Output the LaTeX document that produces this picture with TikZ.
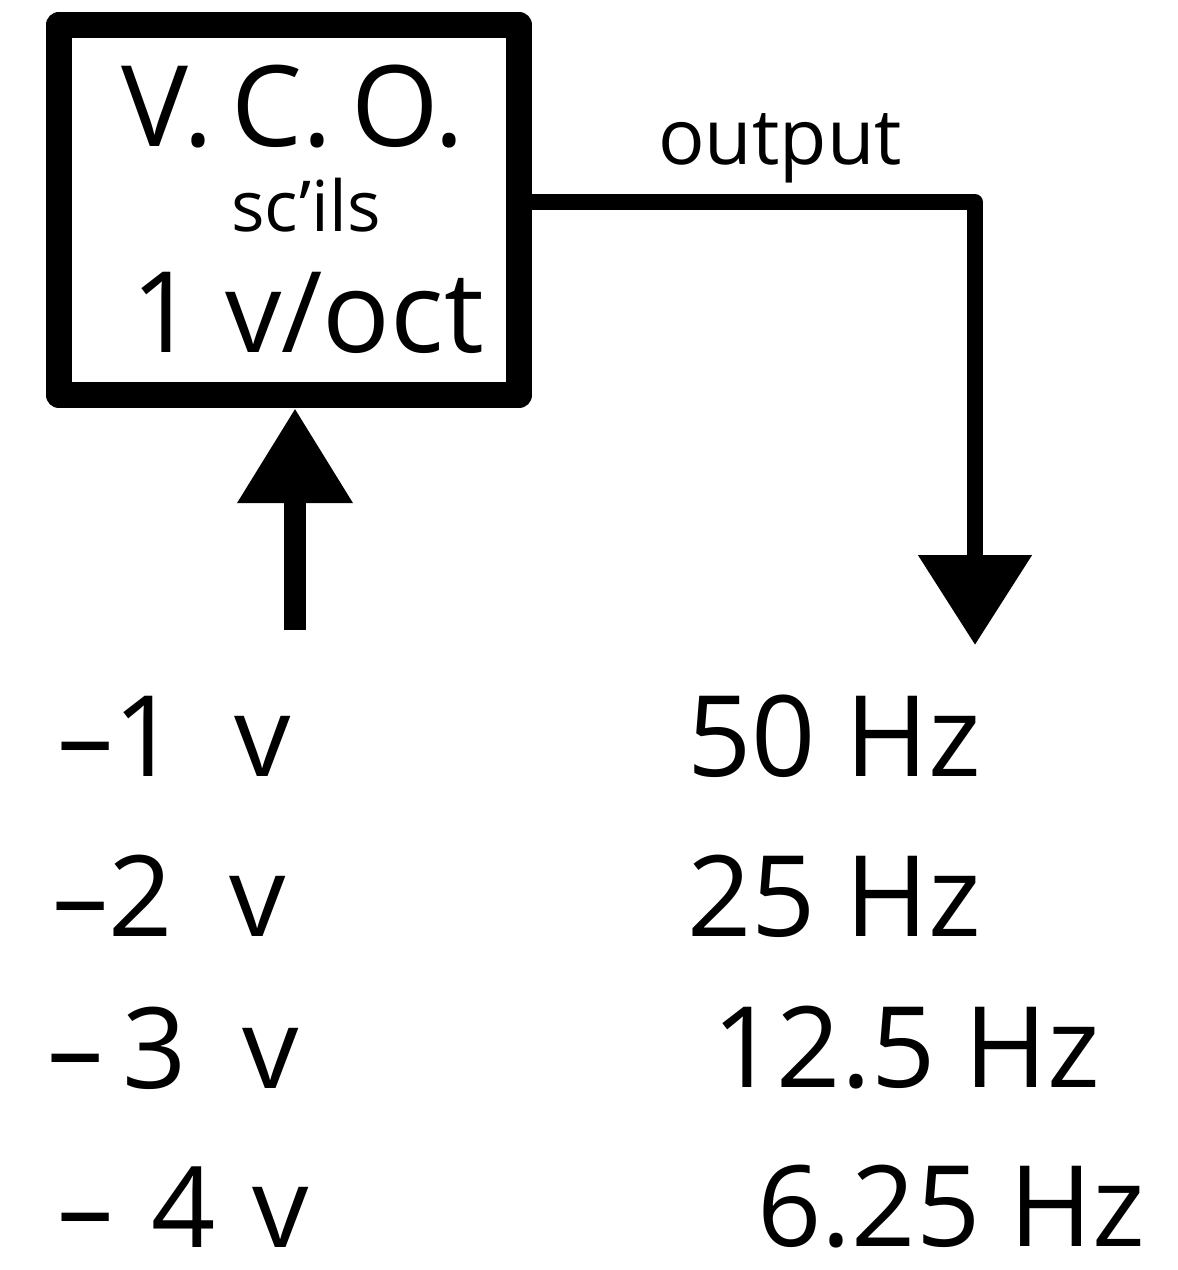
\documentclass[tikz,border=0pt]{standalone}
\usepackage{fontspec}
\setmainfont{Open Sans}
\usetikzlibrary{arrows.meta}

\begin{document}
\begin{tikzpicture}[line join=round]

	\useasboundingbox (0,0) rectangle (11.78,-12.70);

	\coordinate (bend) at (9.75,-2.02);
	\coordinate (out_tip) at (9.75,-6.45);
	\coordinate (in_start) at (2.95,-6.30);

	% Main block
	\node[draw, line width=7.5pt, minimum width=4.6cm, minimum height=3.7cm,
		inner sep=0pt] (vco) at (2.89,-2.10) {};
	\node[font=\fontsize{32}{34}\selectfont] (vco_name) at (2.93,-1.07) {V.\,C.\,O.};
	\node[font=\fontsize{20}{22}\selectfont] (vco_mid) at (3.06,-2.05) {sc'ils};
	\node[font=\fontsize{32}{34}\selectfont] (vco_scale) at (3.08,-3.13) {1 v/oct};

	% Output connector
	\draw[line width=4.5pt, -{Triangle[width=1.1cm,length=0.9cm]}]
		(vco.east |- bend) -- (bend) -- (out_tip);
	\node[font=\fontsize{22}{24}\selectfont, above] (out_label) at (7.8,-1.95) {output};

	% Input connector
	\draw[line width=6pt, -{Triangle[width=1.1cm,length=0.95cm]}]
		(in_start) -- (vco.south -| in_start);

	% Voltages
	\node[font=\fontsize{32}{34}\selectfont, anchor=west] (v1) at (0.45,-7.36) {–1\enspace v};
	\node[font=\fontsize{32}{34}\selectfont, anchor=west] (v2) at (0.40,-8.96) {–2\enspace v};
	\node[font=\fontsize{32}{34}\selectfont, anchor=west] (v3) at (0.35,-10.48) {–\,3\enspace v};
	\node[font=\fontsize{32}{34}\selectfont, anchor=west] (v4) at (0.45,-12.07) {–\,\,4\,\,v};

	% Frequencies
	\node[font=\fontsize{32}{34}\selectfont, anchor=west] (f1) at (6.75,-7.36) {50 Hz};
	\node[font=\fontsize{32}{34}\selectfont, anchor=west] (f2) at (6.75,-8.96) {25 Hz};
	\node[font=\fontsize{32}{34}\selectfont, anchor=west] (f3) at (7.0,-10.48) {12.5 Hz};
	\node[font=\fontsize{32}{34}\selectfont, anchor=west] (f4) at (7.45,-12.07) {6.25 Hz};

\end{tikzpicture}
\end{document}
